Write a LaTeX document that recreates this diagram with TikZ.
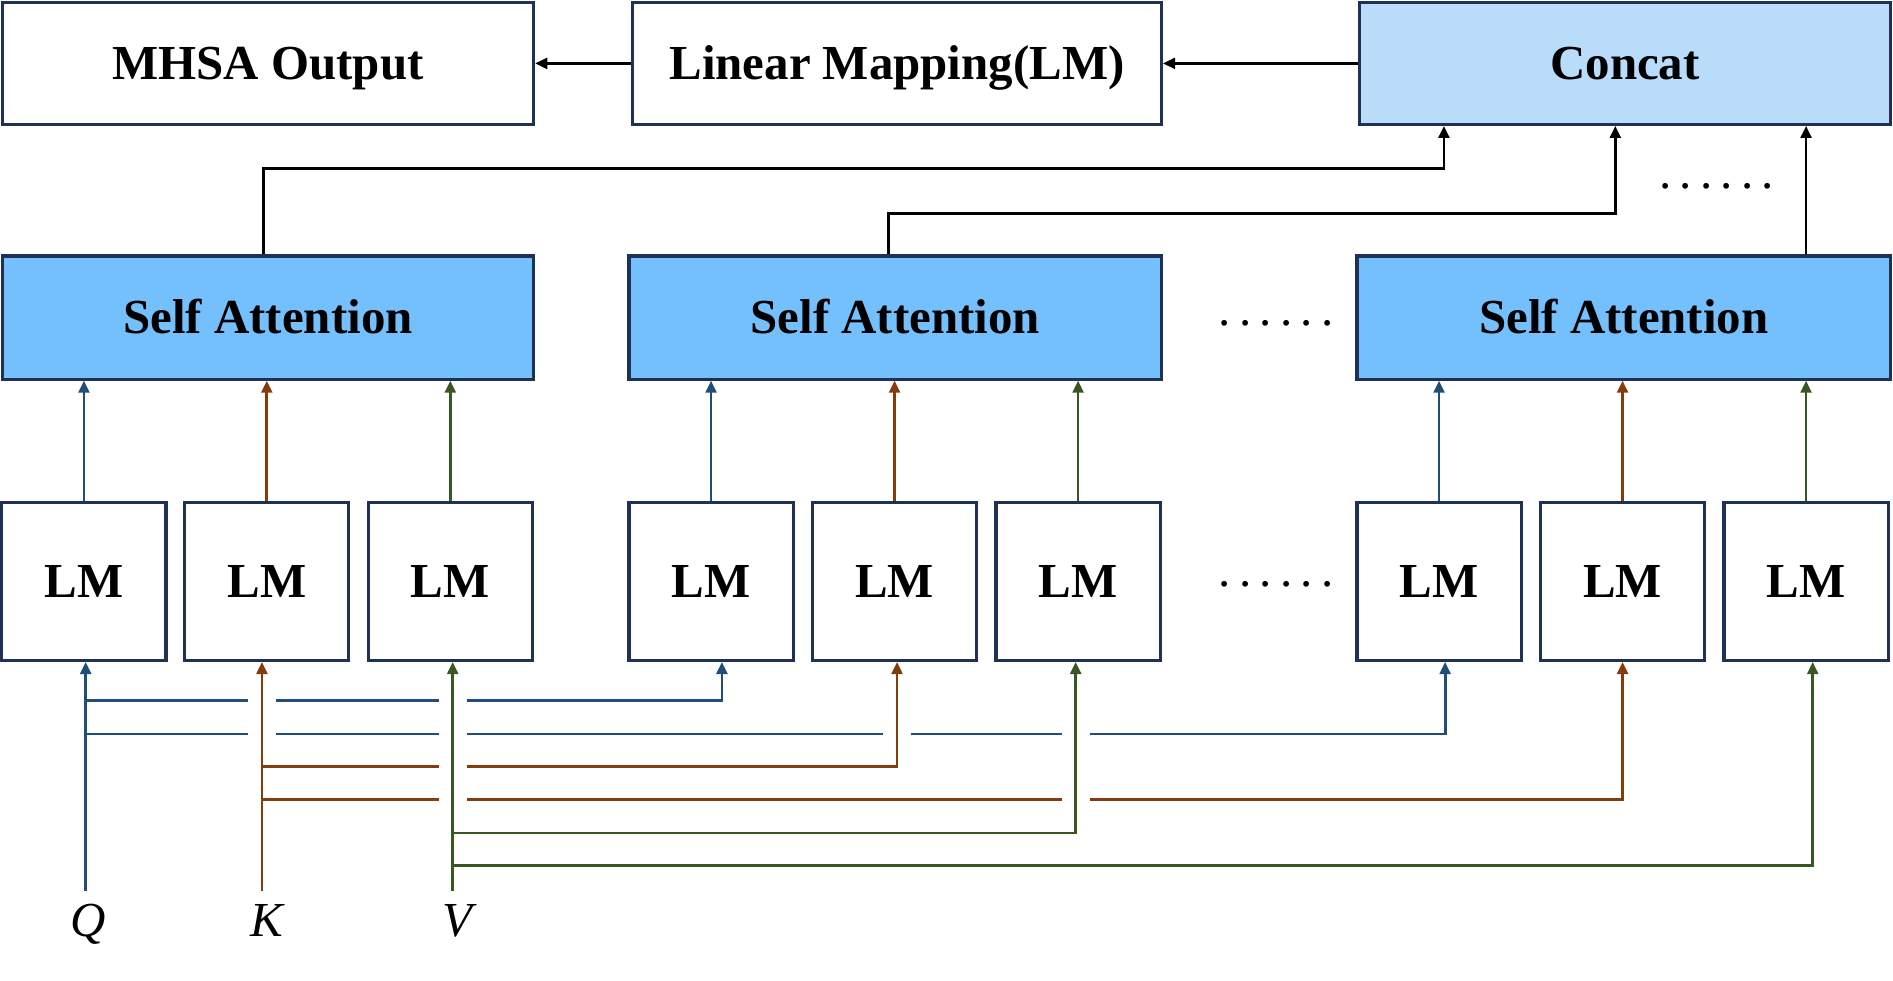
\documentclass[tikz,border=0pt]{standalone}
\usepackage{fontspec}
\setmainfont{Liberation Serif}
\usetikzlibrary{arrows.meta,calc}
\definecolor{boxc}{RGB}{31,50,86}
\definecolor{safill}{RGB}{116,192,252}
\definecolor{ccfill}{RGB}{186,220,251}
\definecolor{qcol}{RGB}{31,78,121}
\definecolor{kcol}{RGB}{132,60,12}
\definecolor{vcol}{RGB}{56,87,35}
\newcommand{\bigfont}{\fontsize{40.5}{48}\selectfont}
\newcommand{\sixdots}{.\hskip6.8pt.\hskip6.8pt.\hskip6.8pt.\hskip6.8pt.\hskip6.8pt.}
\begin{document}
\begin{tikzpicture}[x=1pt,y=-1pt,
  box/.style={draw=boxc, line width=2.6pt, inner sep=0pt, font=\bigfont\bfseries, text=black, text height=27pt, text depth=0pt, align=center},
  lmbox/.style={box, minimum width=136pt, minimum height=131pt, fill=white},
  widebox/.style={box, minimum height=101pt, fill=white},
  sabox/.style={box, minimum height=102pt, fill=safill},
  arr/.style={-{Triangle[width=9pt,length=10pt]}},
  conn/.style={line width=2.3pt},
  dotsnode/.style={font=\bigfont, inner sep=0pt},
  inlabel/.style={font=\bigfont\itshape, anchor=base, inner sep=0pt}]
\useasboundingbox (0,0) rectangle (1568,812);

% top row
\node[widebox, minimum width=440pt] (mhsa) at (222,52.5) {MHSA Output};
\node[widebox, minimum width=438pt] (linmap) at (743,52.5) {Linear Mapping(LM)};
\node[widebox, minimum width=440pt, fill=ccfill] (concat) at (1346,52.5) {Concat};

% self attention row
\node[sabox, minimum width=440pt] (sa1) at (222,263) {Self Attention};
\node[sabox, minimum width=441pt] (sa2) at (741.5,263) {Self Attention};
\node[sabox, minimum width=442pt] (sa3) at (1345,263) {Self Attention};

% LM row
\node[lmbox] (lm1) at (69.5,481.5) {LM};
\node[lmbox] (lm2) at (221,481.5) {LM};
\node[lmbox] (lm3) at (373,481.5) {LM};
\node[lmbox] (lm4) at (589,481.5) {LM};
\node[lmbox] (lm5) at (741,481.5) {LM};
\node[lmbox] (lm6) at (893,481.5) {LM};
\node[lmbox] (lm7) at (1192,481.5) {LM};
\node[lmbox] (lm8) at (1344,481.5) {LM};
\node[lmbox] (lm9) at (1496,481.5) {LM};

% dots
\node[dotsnode] (d1) at (1422,154) {\sixdots};
\node[dotsnode] (d2) at (1057,268) {\sixdots};
\node[dotsnode] (d3) at (1057,484) {\sixdots};

% input labels
\node[inlabel] (ql) at (73,776) {Q};
\node[inlabel] (kl) at (221,776) {K};
\node[inlabel] (vl) at (379,776) {V};
\coordinate (q) at (71,738);
\coordinate (k) at (217,738);
\coordinate (v) at (375,738);

% top connectors
\draw[conn,arr] (concat.west) -- (linmap.east);
\draw[conn,arr] (linmap.west) -- (mhsa.east);
\coordinate (c1) at ([xshift=-150pt]concat.south);
\coordinate (c2) at ([xshift=-8pt]concat.south);
\coordinate (c3) at ([xshift=150pt]concat.south);
\draw[conn,arr] ([xshift=-4pt]sa1.north) -- ++(0,-71) -| (c1);
\draw[conn,arr] ([xshift=-5.5pt]sa2.north) -- ++(0,-34) -| (c2);
\draw[conn,arr] (sa3.north -| c3) -- (c3);

% LM -> self attention
\draw[conn,qcol,arr] (lm1.north) -- (lm1.north |- sa1.south);
\draw[conn,kcol,arr] (lm2.north) -- (lm2.north |- sa1.south);
\draw[conn,vcol,arr] (lm3.north) -- (lm3.north |- sa1.south);
\draw[conn,qcol,arr] (lm4.north) -- (lm4.north |- sa2.south);
\draw[conn,kcol,arr] (lm5.north) -- (lm5.north |- sa2.south);
\draw[conn,vcol,arr] (lm6.north) -- (lm6.north |- sa2.south);
\draw[conn,qcol,arr] (lm7.north) -- (lm7.north |- sa3.south);
\draw[conn,kcol,arr] (lm8.north) -- (lm8.north |- sa3.south);
\draw[conn,vcol,arr] (lm9.north) -- (lm9.north |- sa3.south);

% inputs
\draw[conn,qcol,arr] (q) -- (q |- lm1.south);
\draw[conn,kcol,arr] (k) -- (k |- lm2.south);
\draw[conn,vcol,arr] (v) -- (v |- lm3.south);

\coordinate (lm4in) at ([xshift=9pt]lm4.south);
\coordinate (lm5in) at ([xshift=2pt]lm5.south);
\coordinate (lm6in) at ([xshift=-2pt]lm6.south);
\coordinate (lm7in) at ([xshift=5pt]lm7.south);
\coordinate (lm8in) at (lm8.south);
\coordinate (lm9in) at ([xshift=5.5pt]lm9.south);

% Q rows
\draw[conn,qcol] (q |- 0,580) -- (205.5,580);
\draw[conn,qcol] (228.5,580) -- (363.5,580);
\draw[conn,qcol,arr] (386.5,580) -| (lm4in);
\draw[conn,qcol] (q |- 0,608) -- (205.5,608);
\draw[conn,qcol] (228.5,608) -- (363.5,608);
\draw[conn,qcol] (386.5,608) -- (731.5,608);
\draw[conn,qcol] (754.5,608) -- (879.5,608);
\draw[conn,qcol,arr] (902.5,608) -| (lm7in);
% K rows
\draw[conn,kcol] (k |- 0,635) -- (363.5,635);
\draw[conn,kcol,arr] (386.5,635) -| (lm5in);
\draw[conn,kcol] (k |- 0,662) -- (363.5,662);
\draw[conn,kcol] (386.5,662) -- (879.5,662);
\draw[conn,kcol,arr] (902.5,662) -| (lm8in);
% V rows
\draw[conn,vcol,arr] (v |- 0,690) -| (lm6in);
\draw[conn,vcol,arr] (v |- 0,717) -| (lm9in);
\end{tikzpicture}
\end{document}
